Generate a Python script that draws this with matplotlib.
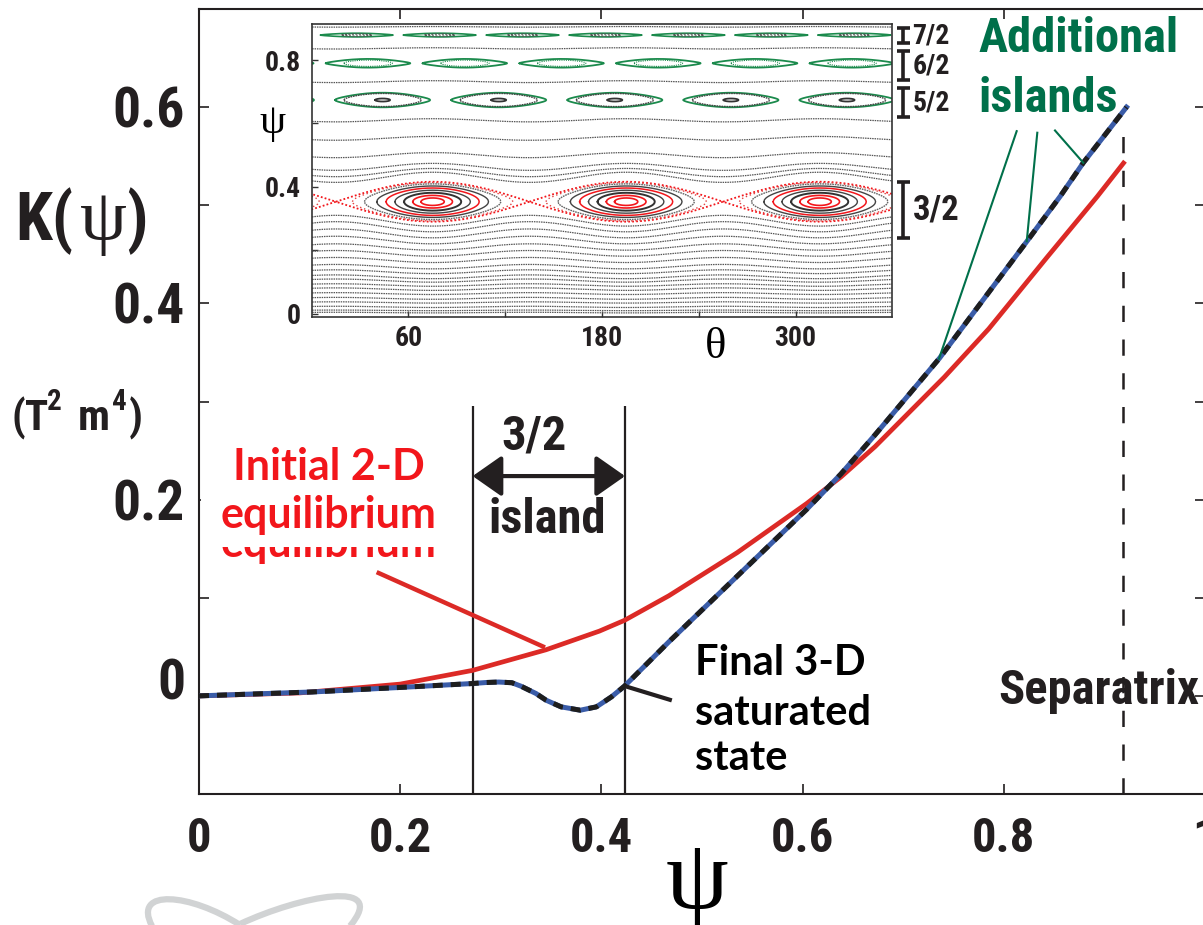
import numpy as np
import matplotlib
matplotlib.use('Agg')
import matplotlib.pyplot as plt
from matplotlib import font_manager as fm
from matplotlib.patches import Rectangle, PathPatch
from matplotlib.path import Path
from matplotlib.transforms import ScaledTranslation

# ---------------- data ----------------
psi_initial = [0.0, 0.10, 0.20, 0.272, 0.345, 0.398, 0.423, 0.467, 0.535, 0.604,
               0.638, 0.672, 0.741, 0.785, 0.843, 0.893, 0.919]
K_initial = [0.0, 0.003, 0.012, 0.026, 0.047, 0.066, 0.077, 0.102, 0.146, 0.196,
             0.223, 0.254, 0.325, 0.374, 0.447, 0.509, 0.543]

psi_final = [0.0, 0.113, 0.20, 0.272, 0.285, 0.298, 0.311, 0.320, 0.335, 0.345, 0.360,
             0.379, 0.395, 0.410, 0.423, 0.467, 0.535, 0.604, 0.638, 0.672, 0.736,
             0.8228, 0.856, 0.879, 0.922]
K_final = [0.0, 0.004, 0.0086, 0.0126, 0.0136, 0.0141, 0.0134, 0.0099, 0.0024, -0.0044,
           -0.0112, -0.0146, -0.0112, -0.001, 0.010, 0.055, 0.122, 0.190, 0.226, 0.266,
           0.344, 0.463, 0.509, 0.5433, 0.600]

x_ticks = [0.0, 0.2, 0.4, 0.6, 0.8, 1.0]
x_ticklabels = ['0', '0.2', '0.4', '0.6', '0.8', '1']
y_ticks = [-0.1, 0.0, 0.1, 0.2, 0.3, 0.4, 0.5, 0.6, 0.7]
y_ticklabels = ['', '0', '', '0.2', '', '0.4', '', '0.6', '']

island_edges = [0.272, 0.4235]
separatrix_psi = 0.9185

# inset (Poincare section)
theta_ticks = [60, 120, 180, 240, 300]
theta_ticklabels = ['60', '', '180', '', '300']
inset_psi_ticks = [0.0, 0.2, 0.4, 0.6, 0.8]
inset_psi_ticklabels = ['0', '', '0.4', '', '0.8']

surface_psi = [0.003, 0.010, 0.021, 0.035, 0.048, 0.063, 0.077, 0.090, 0.104, 0.116,
               0.132, 0.148, 0.169, 0.190, 0.210, 0.232, 0.253, 0.274, 0.293,
               0.430, 0.445, 0.463, 0.500, 0.553, 0.610, 0.732, 0.837, 0.905]
surface_wave = [0.001, 0.001, 0.002, 0.002, 0.003, 0.003, 0.004, 0.004, 0.005, 0.006,
                0.006, 0.007, 0.008, 0.009, 0.010, 0.012, 0.014, 0.016, 0.017,
                0.016, 0.013, 0.011, 0.008, 0.006, 0.005, 0.003, 0.002, 0.001]

island_labels = ['3/2', '5/2', '6/2', '7/2']
island_m = [3, 5, 6, 7]
island_psi = [0.353, 0.674, 0.790, 0.879]
island_halfwidth = [0.063, 0.024, 0.014, 0.006]
island_theta_O = [75, 44, 35, 28]
bracket_lo = [0.238, 0.620, 0.737, 0.854]
bracket_hi = [0.415, 0.711, 0.828, 0.901]

# ---------------- fonts ----------------
avail = {f.name for f in fm.fontManager.ttflist}
def pick(*cands):
    for c in cands:
        if c in avail:
            return c
    return 'DejaVu Sans'
NARROW = pick('Roboto Condensed', 'Liberation Sans Narrow', 'Open Sans Condensed',
              'Liberation Sans', 'Roboto')
GEO = pick('Lato', 'Open Sans', 'DejaVu Sans')
SERIF = pick('Liberation Serif', 'DejaVu Serif')

W, H, DPI = 1203, 925, 100
DARK = '#231F20'
RED = '#DC2A26'
TXTRED = '#F2161B'
BLUE = '#3A5CA8'
GREEN = '#00704A'

fig = plt.figure(figsize=(W / DPI, H / DPI), dpi=DPI)
fig.patch.set_facecolor('white')

def fpx(x, y):
    return x / W, 1 - y / H

# ---------------- main axes ----------------
ax = fig.add_axes([199 / W, 1 - 794 / H, 1006 / W, 785 / H])
ax.set_xlim(0, 1)
ax.set_ylim(-0.1, 0.7)
for s in ax.spines.values():
    s.set_linewidth(1.5)
    s.set_color(DARK)

ax.set_xticks(x_ticks)
ax.set_xticklabels(x_ticklabels)
ax.set_yticks(y_ticks)
ax.set_yticklabels(y_ticklabels)
ax.tick_params(direction='in', length=7, width=1.2, color=DARK, top=True, right=True,
               labelcolor=DARK)
ax.tick_params(axis='x', labelsize=35, pad=16)
ax.tick_params(axis='y', labelsize=40, pad=10)
for lab in ax.get_xticklabels() + ax.get_yticklabels():
    lab.set_fontfamily(NARROW)
    lab.set_fontweight('bold')
# the "0" label of K sits slightly above its tick in the original figure
for lab in ax.get_yticklabels():
    if lab.get_text() == '0':
        lab.set_transform(lab.get_transform() +
                          ScaledTranslation(0, 12 / 72, fig.dpi_scale_trans))

# curves
ax.plot(psi_initial, K_initial, color=RED, lw=3.4, zorder=4, solid_joinstyle='round')
ax.plot(psi_final, K_final, color=BLUE, lw=3.6, zorder=5, solid_joinstyle='round')
ax.plot(psi_final, K_final, color='#1E1E1E', lw=3.6, dashes=(2.0, 1.6), zorder=6,
        dash_capstyle='butt')

# island edges and arrow
ax.vlines(island_edges, -0.1, 0.295, color=DARK, lw=1.6, zorder=3)
ax.annotate('', xy=(island_edges[1], 0.224), xytext=(island_edges[0], 0.224),
            arrowprops=dict(arrowstyle='<|-|>,head_length=1.0,head_width=0.7',
                            mutation_scale=18, lw=3, color=DARK,
                            shrinkA=0, shrinkB=0), zorder=7)
ax.text(0.333, 0.2507, '3/2', ha='center', va='baseline', fontsize=35,
        fontfamily=NARROW, fontweight='bold', color=DARK)
ax.text(0.346, 0.166, 'island', ha='center', va='baseline', fontsize=35,
        fontfamily=NARROW, fontweight='bold', color=DARK)

# separatrix
ax.plot([separatrix_psi, separatrix_psi], [-0.1, 0.574], color=DARK, lw=1.8,
        dashes=(6.5, 7), zorder=3)
ax.text(0.7942, -0.0078, 'Separatrix', ha='left', va='baseline', fontsize=35,
        fontfamily=NARROW, fontweight='bold', color=DARK, zorder=8)

# initial 2-D label (with partly hidden duplicate)
ax.text(0.1292, 0.1418, 'equilibrium', ha='center', va='baseline', fontsize=31,
        fontfamily=GEO, fontweight='bold', color=TXTRED, zorder=6)
ax.add_patch(Rectangle((0.002, 0.152), 0.248, 0.119, facecolor='white',
                       edgecolor='none', zorder=7))
ax.text(0.1292, 0.2201, 'Initial 2-D', ha='center', va='baseline', fontsize=31,
        fontfamily=GEO, fontweight='bold', color=TXTRED, zorder=8)
ax.text(0.1292, 0.1711, 'equilibrium', ha='center', va='baseline', fontsize=31,
        fontfamily=GEO, fontweight='bold', color=TXTRED, zorder=8)
ax.plot([0.1766, 0.3439], [0.1261, 0.0494], color=RED, lw=3.2, zorder=4,
        solid_capstyle='butt')

# final 3-D label
for txt, yb in [('Final 3-D', 0.0211), ('saturated', -0.0299), ('state', -0.0759)]:
    ax.text(0.4930, yb, txt, ha='left', va='baseline', fontsize=30,
            fontfamily=GEO, fontweight='bold', color='black', zorder=8)
ax.plot([0.4235, 0.470], [0.0099, -0.0046], color=DARK, lw=3.0, zorder=7,
        solid_capstyle='butt')

# additional islands
ax.text(0.7744, 0.6558, 'Additional', ha='left', va='baseline', fontsize=35,
        fontfamily=NARROW, fontweight='bold', color=GREEN, zorder=8)
ax.text(0.7744, 0.5946, 'islands', ha='left', va='baseline', fontsize=35,
        fontfamily=NARROW, fontweight='bold', color=GREEN, zorder=8)
for (x0, y0, x1, y1) in [(0.8128, 0.5755, 0.7356, 0.3436),
                         (0.8333, 0.5739, 0.8228, 0.4633),
                         (0.8509, 0.5762, 0.8790, 0.5433)]:
    ax.plot([x0, x1], [y0, y1], color=GREEN, lw=1.5, zorder=7)

# axis labels (figure pixel positions)
def ftext(x, y, s, **kw):
    fig.text(x / W, 1 - y / H, s, **kw)

nb = dict(fontfamily=NARROW, fontweight='bold', color=DARK, va='baseline', ha='left')
ftext(15, 240, 'K(', fontsize=48, **nb)
ftext(80, 240, 'ψ', fontsize=54, fontfamily=SERIF, color=DARK, va='baseline', ha='left')
ftext(126, 240, ')', fontsize=48, **nb)
ftext(12, 430, '(T', fontsize=31, **nb)
ftext(47, 410, '2', fontsize=21, **nb)
ftext(78, 430, 'm', fontsize=31, **nb)
ftext(112, 410, '4', fontsize=21, **nb)
ftext(129, 430, ')', fontsize=31, **nb)
ftext(697, 908, 'ψ', fontsize=72, fontfamily=SERIF, color='black', va='baseline',
      ha='center')

# grey logo fragment
def bez(pts):
    pts = [fpx(x, y) for x, y in pts]
    return Path(pts, [Path.MOVETO, Path.CURVE4, Path.CURVE4, Path.CURVE4])
for pts in [[(152, 926), (132, 888), (190, 893), (240, 925)],
            [(240, 924), (300, 896), (390, 878), (350, 926)]]:
    fig.add_artist(PathPatch(bez(pts), transform=fig.transFigure, facecolor='none',
                             edgecolor='#D1D3D4', lw=4.5))

# ---------------- inset ----------------
ins = fig.add_axes([311.7 / W, 1 - 316.7 / H, 580.6 / W, 292.4 / H])
ins.set_facecolor('white')
ins.set_xlim(0, 360)
ins.set_ylim(-0.01, 0.913)
for s in ins.spines.values():
    s.set_linewidth(1.2)
    s.set_color('#333333')
ins.set_xticks(theta_ticks)
ins.set_xticklabels(theta_ticklabels)
ins.set_yticks(inset_psi_ticks)
ins.set_yticklabels(inset_psi_ticklabels)
ins.tick_params(direction='in', length=4, width=1, color='#333333', labelcolor=DARK)
ins.tick_params(axis='x', labelsize=20, pad=6)
ins.tick_params(axis='y', labelsize=20, pad=8)
for lab in ins.get_xticklabels() + ins.get_yticklabels():
    lab.set_fontfamily(NARROW)
    lab.set_fontweight('bold')

theta = np.linspace(-10, 370, 761)
c0 = island_theta_O[0]
for p, a in zip(surface_psi, surface_wave):
    sign = 1 if p > island_psi[0] else -1
    y = p + sign * a * np.cos(np.radians(island_m[0] * (theta - c0)))
    ins.plot(theta, y, color='#555555', lw=0.9, dashes=(1.2, 0.7))

def island_curves(m, p0, hw, thO, k):
    phimax = 2 * np.arcsin(np.sqrt(min(k, 1.0)))
    phi = np.linspace(-phimax, phimax, 200)
    d = hw * np.sqrt(np.clip(k - np.sin(phi / 2) ** 2, 0, None))
    ph = np.concatenate([phi, phi[::-1]])
    dd = np.concatenate([d, -d[::-1]])
    out = []
    for j in range(-1, m + 1):
        th = thO + j * 360.0 / m + np.degrees(ph) / m
        out.append((th, p0 + dd))
    return out

styles = {
    0: [(1.0, TXTRED, 1.3, (1, 1.2)), (0.93, '#E04040', 1.0, (1, 2)),
        (0.80, '#666666', 1.0, (1.2, 0.6)), (0.62, '#444444', 1.0, None),
        (0.47, TXTRED, 1.1, None), (0.33, '#444444', 1.0, None),
        (0.20, '#333333', 1.4, None), (0.10, TXTRED, 1.2, None),
        (0.035, TXTRED, 1.2, None)],
    1: [(0.92, '#1B8A4C', 1.3, None), (0.75, '#444444', 1.0, (1.2, 0.6)),
        (0.04, '#333333', 1.3, None)],
    2: [(0.96, '#1B8A4C', 1.3, None), (0.5, '#1B8A4C', 0.8, (1, 1))],
    3: [(0.96, '#1B8A4C', 1.2, None), (0.3, '#555555', 1.0, (1.5, 1))],
}
for i in range(len(island_m)):
    for k, col, lw, ds in styles[i]:
        for th, yy in island_curves(island_m[i], island_psi[i], island_halfwidth[i],
                                    island_theta_O[i], k):
            if ds is None:
                ins.plot(th, yy, color=col, lw=lw)
            else:
                ins.plot(th, yy, color=col, lw=lw, dashes=ds)

# brackets with labels
for lab, lo, hi, i in zip(island_labels, bracket_lo, bracket_hi, range(4)):
    ins.plot([366.8, 366.8], [lo, hi], color=DARK, lw=2.6, clip_on=False,
             solid_capstyle='butt')
    for yv in (lo, hi):
        ins.plot([362.8, 370.8], [yv, yv], color=DARK, lw=2.6, clip_on=False,
                 solid_capstyle='butt')
    ins.text(372.5, (lo + hi) / 2, lab, ha='left', va='center',
             fontsize=25 if i == 0 else 20, fontfamily=NARROW, fontweight='bold',
             color=DARK, clip_on=False)

ftext(272, 133, 'ψ', fontsize=30, fontfamily=SERIF, color='black', va='baseline',
      ha='center')
ftext(716, 358, 'θ', fontsize=32, fontfamily=SERIF, color='black', va='baseline',
      ha='center')

fig.savefig('out.png', dpi=DPI)
